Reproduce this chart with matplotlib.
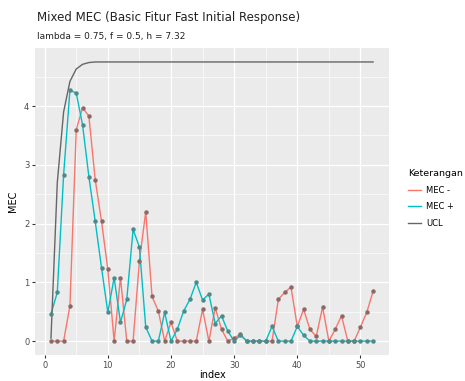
import matplotlib
matplotlib.use("Agg")
import matplotlib.pyplot as plt
from matplotlib.ticker import MultipleLocator
from matplotlib.lines import Line2D

index = list(range(1, 53))
mec_plus = [0.46, 0.83, 2.83, 4.27, 4.22, 3.68, 2.80, 2.04, 1.25, 0.49,
            1.08, 0.32, 0.71, 1.90, 1.60, 0.24, 0.00, 0.00, 0.49, 0.00,
            0.20, 0.51, 0.71, 1.00, 0.70, 0.80, 0.30, 0.43, 0.17, 0.00,
            0.10, 0.00, 0.00, 0.00, 0.00, 0.25, 0.00, 0.00, 0.00, 0.25,
            0.10, 0.00, 0.00, 0.00, 0.00, 0.00, 0.00, 0.00, 0.00, 0.00,
            0.00, 0.00]
mec_minus = [0.00, 0.00, 0.00, 0.60, 3.60, 3.97, 3.83, 2.75, 2.04, 1.22,
             0.00, 1.08, 0.00, 0.00, 1.36, 2.20, 0.76, 0.51, 0.00, 0.32,
             0.00, 0.00, 0.00, 0.00, 0.54, 0.00, 0.57, 0.20, 0.00, 0.05,
             0.12, 0.00, 0.00, 0.00, 0.00, 0.00, 0.71, 0.83, 0.92, 0.25,
             0.54, 0.20, 0.08, 0.58, 0.00, 0.20, 0.43, 0.00, 0.00, 0.24,
             0.49, 0.85]
ucl = [0.05, 2.70, 3.90, 4.42, 4.63, 4.71, 4.74, 4.75] + [4.75] * 44

title = "Mixed MEC (Basic Fitur Fast Initial Response)"
subtitle = "lambda = 0.75, f = 0.5, h = 7.32"
legend_title = "Keterangan"
labels = ["MEC -", "MEC +", "UCL"]
colors = ["#F8766D", "#00BFC4", "#666666"]

plt.rcParams['font.family'] = ['DejaVu Sans']
fig = plt.figure(figsize=(4.65, 3.81), dpi=100)
ax = fig.add_axes([0.075, 0.068, 0.762, 0.806])
ax.set_facecolor("#EBEBEB")

lw = 1.0
ax.plot(index, mec_minus, color=colors[0], lw=lw, zorder=3)
ax.plot(index, mec_plus, color=colors[1], lw=lw, zorder=3)
ax.plot(index, ucl, color=colors[2], lw=lw, zorder=3)
ax.plot(index, mec_minus, ls="none", marker="o", ms=2.2, color="#8a6a66", zorder=4)
ax.plot(index, mec_plus, ls="none", marker="o", ms=2.2, color="#4f8a8a", zorder=4)

ax.set_xlim(1 - 0.05 * 51, 52 + 0.05 * 51)
ymax = max(ucl)
ax.set_ylim(-0.05 * ymax, ymax * 1.05)
ax.xaxis.set_major_locator(MultipleLocator(10))
ax.xaxis.set_minor_locator(MultipleLocator(5))
ax.yaxis.set_major_locator(MultipleLocator(1))
ax.yaxis.set_minor_locator(MultipleLocator(0.5))
ax.grid(which="major", color="white", lw=0.9, zorder=0)
ax.grid(which="minor", color="white", lw=0.45, zorder=0)
ax.set_axisbelow(True)
for s in ax.spines.values():
    s.set_visible(False)
ax.tick_params(which="major", length=2.5, color="#333333", labelsize=6, labelcolor="#4D4D4D", pad=1.5)
ax.tick_params(which="minor", length=0)

ax.set_xlabel("index", fontsize=7, labelpad=0.5)
ax.set_ylabel("MEC", fontsize=7, labelpad=4)

fig.text(0.08, 0.955, title, fontsize=8.5, ha="left", va="center", color="#222222")
fig.text(0.08, 0.905, subtitle, fontsize=6.5, ha="left", va="center", color="#222222")

handles = [Line2D([0], [0], color=c, lw=lw) for c in colors]
leg = fig.legend(handles, labels, title=legend_title, loc="upper left",
                 bbox_to_anchor=(0.87, 0.565), frameon=False, fontsize=6,
                 title_fontsize=6.8, handlelength=1.6, handletextpad=0.6,
                 labelspacing=0.9, borderaxespad=0)
leg._legend_box.align = "left"

fig.savefig("out.png", dpi=100)
